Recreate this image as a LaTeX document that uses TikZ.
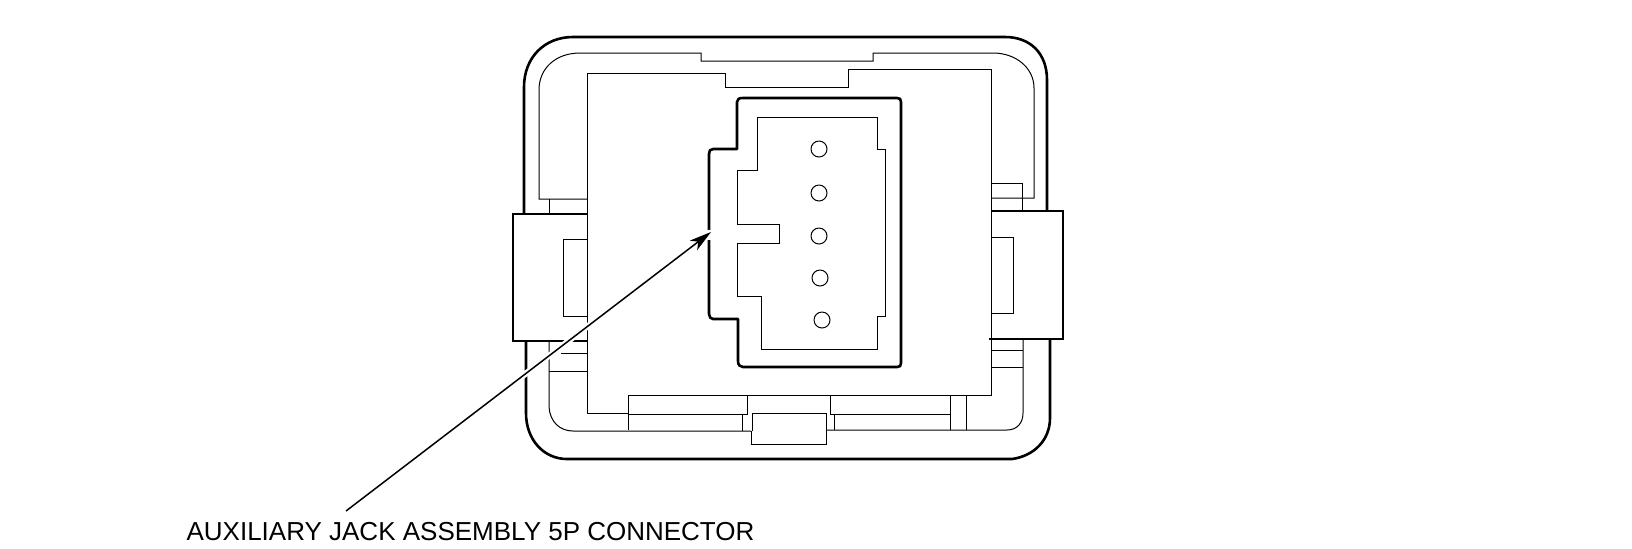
\documentclass[tikz,border=0pt]{standalone}
\usepackage{fontspec}
\setmainfont{Liberation Sans}
\usetikzlibrary{arrows.meta}
\tikzset{
  heavy/.style={line width=1.3pt,black,line join=round},
  medium/.style={line width=1pt,black,line join=miter},
  thin line/.style={line width=0.5pt,black},
  halo/.style={line width=3pt,white},
  leader/.style={line width=0.75pt,black,-{Stealth[length=11pt,width=6pt,inset=3pt]}},
  caption/.style={font=\fontsize{13pt}{15pt}\selectfont,text=black,inner sep=0pt,anchor=center}
}
\begin{document}
\begin{tikzpicture}[x=0.5pt,y=-0.5pt]
\useasboundingbox (0,0) rectangle (1632,548);
% outer body
\draw[heavy] (524,214) -- (524,87) .. controls (524,58) and (544,37) .. (573,37) -- (1005,37) .. controls (1030,37) and (1047,53) .. (1047,80) -- (1047,211);
\draw[heavy] (526,341) -- (526,413) .. controls (526,440) and (544,459) .. (567,459) -- (1012,459) .. controls (1034,456) and (1050,440) .. (1050,418) -- (1050,339);
% side tabs
\draw[medium] (587,214) -- (513,214) -- (513,341) -- (587,341);
\draw[medium] (991,211) -- (1063,211) -- (1063,339) -- (989,339);
% inner contour
\draw[thin line] (991,198) -- (1034,198) -- (1034,88) .. controls (1034,68) and (1016,53) .. (993,53) -- (873,53) -- (873,61) -- (701,61) -- (701,53) -- (580,53) .. controls (556,53) and (539,68) .. (539,90) -- (539,199) -- (587,199);
\draw[thin line] (549,199) -- (549,214);
\draw[thin line] (549,341) -- (549,407) .. controls (550,422) and (560,431) .. (573,431) -- (751,431);
\draw[thin line] (826,430) -- (1007,430) .. controls (1017,430) and (1023,423) .. (1023,413) -- (1023,339);
% side details
\draw[thin line] (587,239) -- (563,239) -- (563,316) -- (587,316);
\draw[thin line] (991,237) -- (1013,237) -- (1013,313) -- (991,313);
\draw[thin line] (561,353) -- (587,353);
\draw[thin line] (549,371) -- (587,371);
\draw[thin line] (991,350) -- (1023,350);
\draw[thin line] (991,367) -- (1023,367);
\draw[thin line] (991,183) -- (1022,183) -- (1022,211);
% main panel
\draw[thin line] (628,413) -- (587,413) -- (587,73) -- (725,73) -- (725,87) -- (848,87) -- (848,69) -- (991,69) -- (991,395) -- (628,395) -- (628,430);
\draw[thin line] (628,414) -- (747,414) -- (747,395);
\draw[thin line] (742,414) -- (742,431);
\draw[thin line] (752,431) -- (752,413) -- (826,413) -- (826,444) -- (751,444) -- (751,431);
\draw[thin line] (830,395) -- (830,414) -- (950,414);
\draw[thin line] (834,414) -- (834,430);
\draw[thin line] (950,395) -- (950,430);
\draw[thin line] (966,395) -- (966,430);
% connector outline
\draw[heavy] (709,230) -- (709,154) .. controls (709,151) and (710,149) .. (713,149) -- (737,149) -- (737,102) .. controls (737,99) and (739,98) .. (743,98) -- (897,98) .. controls (900,98) and (901,99) .. (901,102) -- (901,363) .. controls (901,366) and (900,367) .. (897,367) -- (743,367) .. controls (740,367) and (738,365) .. (738,361) -- (738,319) -- (713,319) .. controls (711,319) and (709,317) .. (709,314) -- (709,240);
% connector inner
\draw[thin line] (757,117) -- (877,117) -- (877,149) -- (885,149) -- (885,316) -- (877,316) -- (877,349) -- (761,349) -- (761,296) -- (737,296) -- (737,243) -- (779,243) -- (779,224) -- (737,224) -- (737,170) -- (757,170) -- cycle;
% pins
\node[draw,thin line,circle,minimum size=8pt,inner sep=0pt] (pinA) at (819,149) {};
\node[draw,thin line,circle,minimum size=8pt,inner sep=0pt] (pinB) at (819,193) {};
\node[draw,thin line,circle,minimum size=8pt,inner sep=0pt] (pinC) at (819,236) {};
\node[draw,thin line,circle,minimum size=8pt,inner sep=0pt] (pinD) at (820,278) {};
\node[draw,thin line,circle,minimum size=8pt,inner sep=0pt] (pinE) at (822,320) {};
% leader
\node[caption] (label) at (470.5,532) {AUXILIARY JACK ASSEMBLY 5P CONNECTOR};
\coordinate (tail) at (346,511);
\coordinate (tip) at (711,232);
\draw[halo] (tail) -- (tip);
\draw[leader] (tail) -- (tip);
\end{tikzpicture}
\end{document}
